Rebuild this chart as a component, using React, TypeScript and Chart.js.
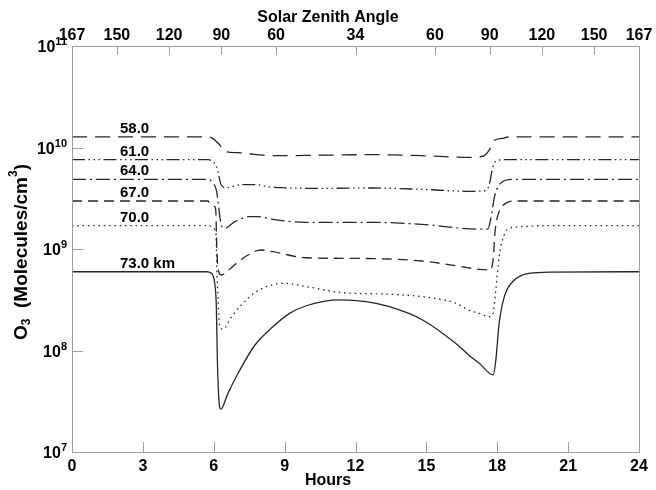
import { useEffect, useRef } from "react";
import { Chart, registerables } from "chart.js";

Chart.register(...registerables);

// ---- axis ticks / labels ----
const hourTicks = [0, 3, 6, 9, 12, 15, 18, 21, 24];
const szaPositions = [0, 1.9, 4.11, 6.32, 8.64, 12, 15.36, 17.68, 19.89, 22.1, 24];
const szaLabels = ["167", "150", "120", "90", "60", "34", "60", "90", "120", "150", "167"];
const yTickValues = [1e7, 1e8, 1e9, 1e10, 1e11];
const yTickExponents = ["7", "8", "9", "10", "11"];
const altitudeLabels = ["58.0", "61.0", "64.0", "67.0", "70.0", "73.0 km"];
const altitudeLabelHour = 2.03;
const topTitle = "Solar Zenith Angle";
const bottomTitle = "Hours";

// ---- series (hours, O3 density) ----
const h58 = [0, 5.8, 6.0, 6.15, 6.25, 6.45, 7.0, 8.5, 10.6, 12.7, 14.8, 16.8, 17.4, 17.66, 17.87, 18.2, 18.5, 24];
const v58 = [1.27e10, 1.27e10, 1.21e10, 1.12e10, 1.06e10, 9.2e9, 8.9e9, 8.3e9, 8.4e9, 8.5e9, 8.3e9, 8.0e9, 8.2e9, 9.4e9, 1.17e10, 1.23e10, 1.27e10, 1.27e10];

const h61 = [0, 5.76, 5.95, 6.04, 6.18, 6.25, 6.32, 6.53, 6.89, 7.1, 7.73, 8.5, 10.6, 12.7, 14.8, 16.8, 17.45, 17.66, 17.77, 17.87, 18.08, 18.3, 24];
const v61 = [7.6e9, 7.6e9, 7.3e9, 7.0e9, 5.8e9, 4.8e9, 4.27e9, 4.02e9, 4.18e9, 4.3e9, 4.3e9, 4.05e9, 3.96e9, 3.99e9, 3.87e9, 3.7e9, 3.75e9, 4.27e9, 5.78e9, 6.99e9, 7.5e9, 7.6e9, 7.6e9];

const h64 = [0, 5.76, 5.97, 6.11, 6.18, 6.25, 6.32, 6.46, 6.89, 7.1, 7.5, 7.9, 8.5, 9.9, 12.7, 14.8, 17.2, 17.6, 17.73, 17.87, 18.0, 18.22, 18.65, 24];
const v64 = [4.86e9, 4.86e9, 4.44e9, 3.81e9, 2.92e9, 2.16e9, 1.72e9, 1.6e9, 1.86e9, 1.96e9, 2.08e9, 2.08e9, 1.96e9, 1.83e9, 1.83e9, 1.75e9, 1.57e9, 1.57e9, 2.0e9, 3.16e9, 3.96e9, 4.6e9, 4.86e9, 4.86e9];

const h67 = [0, 5.76, 5.83, 6.04, 6.09, 6.12, 6.15, 6.21, 6.32, 6.6, 6.96, 7.45, 8.0, 8.5, 9.9, 11.3, 13.4, 14.8, 16.25, 17.24, 17.73, 17.8, 17.85, 17.88, 17.94, 18.08, 18.36, 18.8, 24];
const v67 = [2.97e9, 2.97e9, 2.82e9, 2.61e9, 2.3e9, 1.18e9, 7.8e8, 6.0e8, 5.54e8, 6.11e8, 7.23e8, 8.73e8, 9.78e8, 9.4e8, 8.2e8, 8.1e8, 7.97e8, 7.62e8, 6.85e8, 6.3e8, 6.21e8, 7.23e8, 9.0e8, 1.23e9, 1.72e9, 2.33e9, 2.82e9, 2.97e9, 2.97e9];

const h70 = [0, 5.83, 5.97, 6.1, 6.13, 6.18, 6.25, 6.39, 6.75, 7.17, 7.66, 8.23, 8.93, 9.92, 11.32, 13.44, 14.84, 16.25, 16.8, 17.24, 17.66, 17.8, 17.94, 18.08, 18.22, 18.5, 19.07, 20, 24];
const v70 = [1.7e9, 1.7e9, 1.6e9, 1.37e9, 6.0e8, 3.39e8, 1.71e8, 1.62e8, 2.15e8, 2.81e8, 3.6e8, 4.26e8, 4.59e8, 4.26e8, 3.74e8, 3.58e8, 3.39e8, 2.92e8, 2.5e8, 2.32e8, 2.15e8, 2.24e8, 3.95e8, 8.4e8, 1.23e9, 1.6e9, 1.66e9, 1.7e9, 1.7e9];

const h73 = [0, 5.69, 5.9, 6.04, 6.11, 6.15, 6.21, 6.3, 6.6, 7.03, 7.73, 8.5, 9.21, 9.92, 11.32, 12.45, 13.44, 14.84, 16.25, 16.8, 17.24, 17.83, 17.94, 18.08, 18.3, 18.65, 19.07, 19.35, 20.2, 24];
const v73 = [5.97e8, 5.97e8, 5.76e8, 4.59e8, 2.7e8, 8.7e7, 3.51e7, 2.64e7, 3.78e7, 5.96e7, 1.12e8, 1.71e8, 2.32e8, 2.76e8, 3.15e8, 3.03e8, 2.7e8, 2.0e8, 1.17e8, 9.0e7, 7.48e7, 5.74e7, 8.05e7, 1.85e8, 3.39e8, 4.76e8, 5.54e8, 5.76e8, 5.93e8, 5.97e8];

const seriesHours = [h58, h61, h64, h67, h70, h73];
const seriesValues = [v58, v61, v64, v67, v70, v73];
const seriesDash: number[][] = [
  [15, 8],
  [13, 3.5, 1.5, 3.5, 1.5, 3.5, 1.5, 3.5],
  [14, 4, 2, 4],
  [10, 6],
  [1.5, 3.8],
  [],
];

const FONT = '"Liberation Sans", Arial, sans-serif';
const LINE_COLOR = "#262626";
const FRAME_COLOR = "#9c9c9c";

const framePlugin = {
  id: "frameTicksLabels",
  afterDraw(chart: any) {
    const { ctx, chartArea, width, height } = chart;
    const { left, right, top, bottom } = chartArea;
    const xs = chart.scales.x;
    const xt = chart.scales.x2;
    const ys = chart.scales.y;
    ctx.save();
    ctx.strokeStyle = FRAME_COLOR;
    ctx.lineWidth = 1;
    ctx.strokeRect(Math.round(left) + 0.5, Math.round(top) + 0.5, Math.round(right - left), Math.round(bottom - top));
    ctx.beginPath();
    hourTicks.forEach((v) => {
      const px = Math.round(xs.getPixelForValue(v)) + 0.5;
      ctx.moveTo(px, bottom);
      ctx.lineTo(px, bottom - 10);
    });
    szaPositions.forEach((v) => {
      const px = Math.round(xt.getPixelForValue(v)) + 0.5;
      ctx.moveTo(px, top);
      ctx.lineTo(px, top + 9);
    });
    yTickValues.forEach((v) => {
      const py = Math.round(ys.getPixelForValue(v)) + 0.5;
      ctx.moveTo(left, py);
      ctx.lineTo(left + 11, py);
    });
    ctx.stroke();

    ctx.fillStyle = "#000";

    // y tick labels: 10 with superscript exponent
    ctx.textAlign = "right";
    ctx.textBaseline = "alphabetic";
    yTickValues.forEach((v, i) => {
      const py = ys.getPixelForValue(v);
      const exp = yTickExponents[i];
      ctx.font = `bold 11px ${FONT}`;
      const ew = ctx.measureText(exp).width;
      const xr = left - 5;
      ctx.fillText(exp, xr, py - 1);
      ctx.font = `bold 16px ${FONT}`;
      ctx.fillText("10", xr - ew, py + 6);
    });

    // altitude labels
    ctx.font = `bold 15px ${FONT}`;
    ctx.textAlign = "left";
    altitudeLabels.forEach((lab, i) => {
      const px = xs.getPixelForValue(altitudeLabelHour);
      const py = ys.getPixelForValue(seriesValues[i][0]) - 4;
      ctx.fillText(lab, px, py);
    });

    // axis titles
    const cx = width / 2;
    ctx.font = `bold 16px ${FONT}`;
    ctx.textAlign = "center";
    ctx.textBaseline = "middle";
    ctx.fillText(topTitle, cx, 18);
    ctx.fillText(bottomTitle, cx, height - 9);

    // y title: O3 (Molecules/cm3) rotated
    const big = `bold 19px ${FONT}`;
    const small = `bold 12px ${FONT}`;
    const parts: [string, string, number][] = [
      ["O", big, 0],
      ["3", small, 5],
      ["  (Molecules/cm", big, 0],
      ["3", small, -8],
      [")", big, 0],
    ];
    let total = 0;
    parts.forEach(([t, f]) => {
      ctx.font = f;
      total += ctx.measureText(t).width;
    });
    ctx.translate(22, (top + bottom) / 2 + 3);
    ctx.rotate(-Math.PI / 2);
    ctx.textAlign = "left";
    ctx.textBaseline = "middle";
    let x = -total / 2;
    parts.forEach(([t, f, dy]) => {
      ctx.font = f;
      ctx.fillText(t, x, dy);
      x += ctx.measureText(t).width;
    });
    ctx.restore();
  },
};

export default function App() {
  const ref = useRef<HTMLCanvasElement | null>(null);
  useEffect(() => {
    if (!ref.current) return;
    Chart.defaults.color = "#000";
    const datasets = seriesValues.map((vals, i) => ({
      label: altitudeLabels[i],
      data: vals.map((v, j) => ({ x: seriesHours[i][j], y: v })),
      borderColor: LINE_COLOR,
      borderWidth: 1.3,
      borderDash: seriesDash[i],
      pointRadius: 0,
      fill: false,
      cubicInterpolationMode: "monotone" as const,
      xAxisID: "x",
      yAxisID: "y",
    }));
    const tickFont = { family: FONT, size: 16, weight: "bold" as const };
    const chart = new Chart(ref.current, {
      type: "line",
      data: { datasets },
      plugins: [framePlugin],
      options: {
        animation: false,
        responsive: false,
        devicePixelRatio: 1,
        layout: { padding: { left: 0, right: 17, top: 0, bottom: 0 } },
        plugins: { legend: { display: false }, tooltip: { enabled: false } },
        scales: {
          x: {
            type: "linear",
            position: "bottom",
            min: 0,
            max: 24,
            afterBuildTicks: (s: any) => {
              s.ticks = hourTicks.map((v) => ({ value: v }));
            },
            afterFit: (s: any) => {
              s.height = 38;
            },
            ticks: { font: tickFont, color: "#000", padding: 5, maxRotation: 0, autoSkip: false, callback: (v: any) => String(v) },
            grid: { display: false, drawTicks: false },
            border: { display: false },
          },
          x2: {
            type: "linear",
            position: "top",
            min: 0,
            max: 24,
            afterBuildTicks: (s: any) => {
              s.ticks = szaPositions.map((v) => ({ value: v }));
            },
            afterFit: (s: any) => {
              s.height = 46;
            },
            ticks: {
              font: tickFont,
              color: "#000",
              padding: 1,
              maxRotation: 0,
              autoSkip: false,
              callback: (_v: any, i: number) => szaLabels[i],
            },
            grid: { display: false, drawTicks: false },
            border: { display: false },
          },
          y: {
            type: "logarithmic",
            position: "left",
            min: 1e7,
            max: 1e11,
            afterBuildTicks: (s: any) => {
              s.ticks = yTickValues.map((v) => ({ value: v }));
            },
            afterFit: (s: any) => {
              s.width = 72;
            },
            ticks: { display: false },
            grid: { display: false, drawTicks: false },
            border: { display: false },
          },
        },
      },
    });
    return () => chart.destroy();
  }, []);
  return (
    <div style={{ position: "absolute", left: 0, top: 0, width: 656, height: 490 }}>
      <canvas ref={ref} width={656} height={490} style={{ width: 656, height: 490 }} />
    </div>
  );
}
